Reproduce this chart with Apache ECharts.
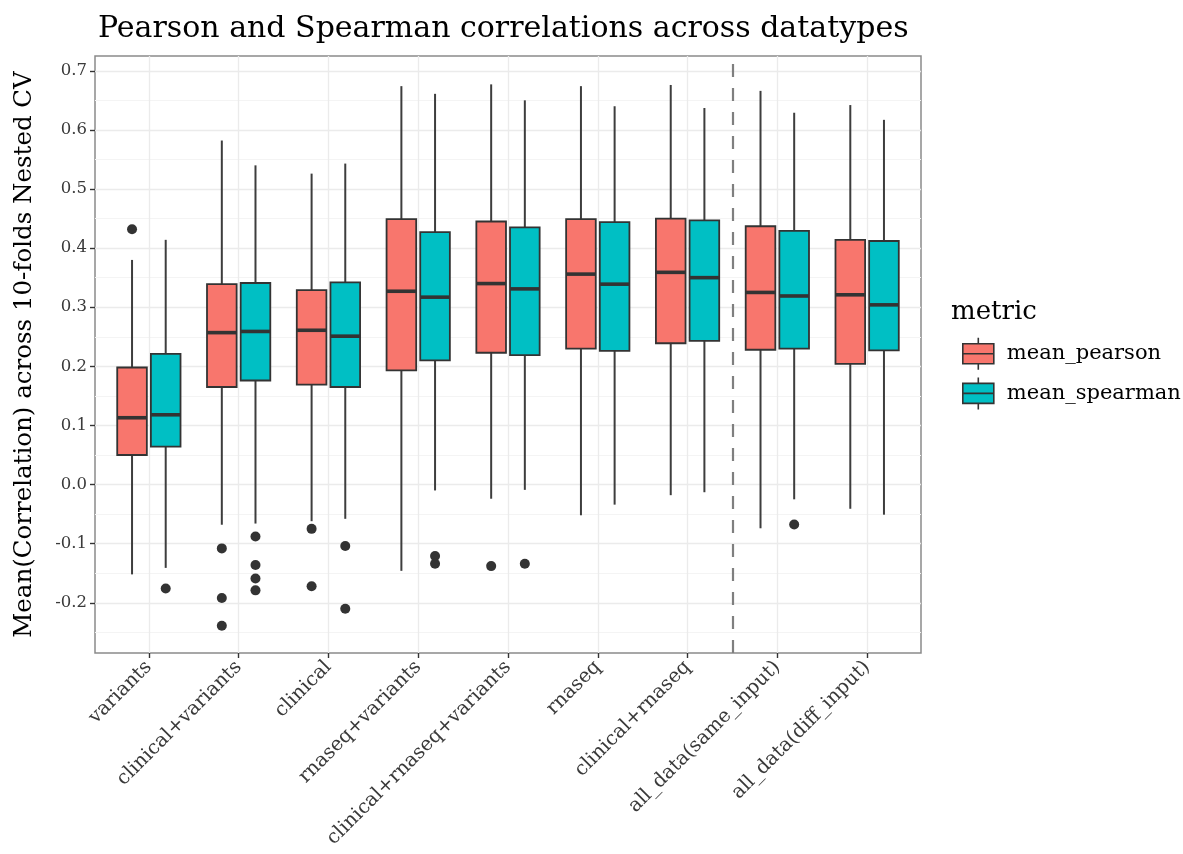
<!DOCTYPE html>
<html>
<head>
<meta charset="utf-8">
<script src="https://cdn.jsdelivr.net/npm/echarts@6/dist/echarts.min.js"></script>
<style>
html,body{margin:0;padding:0;background:#fff;}
#chart{width:1183px;height:854px;}
</style>
</head>
<body>
<div id="chart"></div>
<script>
// ---------- data ----------
const categories = ['variants','clinical+variants','clinical','rnaseq+variants','clinical+rnaseq+variants','rnaseq','clinical+rnaseq','all_data(same_input)','all_data(diff_input)'];
const separatorAfter = 'clinical+rnaseq';
const seriesNames = ['mean_pearson','mean_spearman'];

const yTicks = [-0.2,-0.1,0.0,0.1,0.2,0.3,0.4,0.5,0.6,0.7];
const yMinorTicks = [-0.25,-0.15,-0.05,0.05,0.15,0.25,0.35,0.45,0.55,0.65];

const pearsonLow    = [-0.152,-0.068,-0.062,-0.146,-0.024,-0.052,-0.018,-0.074,-0.041];
const pearsonQ1     = [ 0.050, 0.165, 0.169, 0.193, 0.223, 0.230, 0.239, 0.228, 0.204];
const pearsonMedian = [ 0.113, 0.257, 0.261, 0.327, 0.340, 0.356, 0.359, 0.325, 0.321];
const pearsonQ3     = [ 0.198, 0.339, 0.329, 0.449, 0.445, 0.449, 0.450, 0.437, 0.414];
const pearsonHigh   = [ 0.380, 0.582, 0.526, 0.674, 0.677, 0.674, 0.676, 0.666, 0.642];
const pearsonOutliers = [[0.432],[-0.108,-0.192,-0.239],[-0.075,-0.172],[],[-0.138],[],[],[],[]];

const spearmanLow    = [-0.141,-0.066,-0.058,-0.010,-0.009,-0.034,-0.013,-0.025,-0.051];
const spearmanQ1     = [ 0.064, 0.176, 0.165, 0.210, 0.219, 0.226, 0.243, 0.230, 0.227];
const spearmanMedian = [ 0.118, 0.259, 0.251, 0.317, 0.331, 0.339, 0.350, 0.319, 0.304];
const spearmanQ3     = [ 0.221, 0.341, 0.342, 0.427, 0.435, 0.444, 0.447, 0.429, 0.412];
const spearmanHigh   = [ 0.414, 0.540, 0.543, 0.661, 0.650, 0.640, 0.637, 0.629, 0.617];
const spearmanOutliers = [[-0.176],[-0.088,-0.136,-0.159,-0.179],[-0.104,-0.210],[-0.121,-0.134],[-0.134],[],[],[-0.0675],[]];

// ---------- styling / layout ----------
const FONT = 'DejaVu Serif';
const COLORS = ['#F8766D','#00BFC4'];
const DODGE = 0.1875;      // half of dodge width, in category units
const BOX_W = 0.33;        // box width in category units
const INK = '#333333';

function boxData(lo,q1,md,q3,hi,off){
  return categories.map((c,i)=>[i+off, lo[i], q1[i], md[i], q3[i], hi[i]]);
}
function outlierData(out,off){
  const res=[];
  out.forEach((vals,i)=>vals.forEach(v=>res.push([i+off, v])));
  return res;
}
function renderBox(fill){
  return function(params, api){
    const x = api.value(0);
    const lo = api.coord([x, api.value(1)]);
    const q1 = api.coord([x, api.value(2)]);
    const md = api.coord([x, api.value(3)]);
    const q3 = api.coord([x, api.value(4)]);
    const hi = api.coord([x, api.value(5)]);
    const hw = api.size([BOX_W, 0])[0] / 2;
    const cx = q1[0];
    return {
      type:'group',
      children:[
        {type:'line', shape:{x1:cx,y1:q3[1],x2:cx,y2:hi[1]}, style:{stroke:'#3d3d3d',lineWidth:2}},
        {type:'line', shape:{x1:cx,y1:q1[1],x2:cx,y2:lo[1]}, style:{stroke:'#3d3d3d',lineWidth:2}},
        {type:'rect', shape:{x:cx-hw,y:q3[1],width:hw*2,height:q1[1]-q3[1]}, style:{fill:fill,stroke:INK,lineWidth:1.8}},
        {type:'line', shape:{x1:cx-hw,y1:md[1],x2:cx+hw,y2:md[1]}, style:{stroke:INK,lineWidth:3.6}}
      ]
    };
  };
}

const sepX = categories.indexOf(separatorAfter) + 0.5;
const legendIcon = 'path://M0,6L31,6L31,16L0,16Z M0,16L31,16L31,26L0,26Z M15.5,0L15.5,6 M15.5,26L15.5,32';

const chart = echarts.init(document.getElementById('chart'), null, {renderer:'canvas'});
chart.setOption({
  backgroundColor:'#ffffff',
  animation:false,
  title:[
    {text:'Pearson and Spearman correlations across datatypes', left:93, top:9,
     textStyle:{fontFamily:FONT, fontSize:30, fontWeight:'normal', color:'#000'}},
    {text:'metric', left:946, top:294,
     textStyle:{fontFamily:FONT, fontSize:26, fontWeight:'normal', color:'#000'}}
  ],
  legend:{
    orient:'vertical', left:962, top:337, itemWidth:31, itemHeight:32, itemGap:6,
    selectedMode:false, padding:0,
    textStyle:{fontFamily:FONT, fontSize:21, color:'#000', padding:[0,0,0,8]},
    data: seriesNames.map((n,i)=>({name:n, icon:legendIcon, itemStyle:{color:COLORS[i], borderColor:INK, borderWidth:1.6}}))
  },
  grid:{left:95, top:56, width:826, height:597, show:true, borderColor:'#8a8a8a', borderWidth:1.5, backgroundColor:'#fff'},
  xAxis:{
    type:'value', min:-0.6, max:8.6,
    axisLine:{show:false, onZero:false},
    axisTick:{show:true, length:5, lineStyle:{color:INK, width:1.4}, customValues: categories.map((c,i)=>i)},
    axisLabel:{customValues: categories.map((c,i)=>i), rotate:45, margin:11,
      formatter:(v)=>categories[Math.round(v)], fontFamily:FONT, fontSize:19.5, color:'#3a3a3a'},
    splitLine:{show:true, lineStyle:{color:'#EBEBEB', width:1.3}}
  },
  yAxis:[
    {type:'value', min:-0.285, max:0.725,
     name:'Mean(Correlation) across 10-folds Nested CV', nameLocation:'middle', nameGap:58,
     nameTextStyle:{fontFamily:FONT, fontSize:24.5, color:'#000'},
     axisLine:{show:false, onZero:false},
     axisTick:{show:true, length:5, lineStyle:{color:INK, width:1.4}, customValues: yTicks},
     axisLabel:{customValues: yTicks, margin:8, formatter:(v)=>v.toFixed(1), fontFamily:FONT, fontSize:16.5, color:'#3a3a3a'},
     splitLine:{show:true, lineStyle:{color:'#EBEBEB', width:1.3}}},
    {type:'value', min:-0.285, max:0.725, position:'left',
     axisLine:{show:false, onZero:false}, axisLabel:{show:false},
     axisTick:{show:false, customValues: yMinorTicks},
     splitLine:{show:true, lineStyle:{color:'#F4F4F4', width:1}}}
  ],
  series:[
    {name:seriesNames[0], type:'custom', renderItem:renderBox(COLORS[0]), itemStyle:{color:COLORS[0]},
     encode:{x:0, y:[1,2,3,4,5]}, data:boxData(pearsonLow,pearsonQ1,pearsonMedian,pearsonQ3,pearsonHigh,-DODGE), z:3},
    {name:seriesNames[1], type:'custom', renderItem:renderBox(COLORS[1]), itemStyle:{color:COLORS[1]},
     encode:{x:0, y:[1,2,3,4,5]}, data:boxData(spearmanLow,spearmanQ1,spearmanMedian,spearmanQ3,spearmanHigh,DODGE), z:3},
    {name:'pearson_outliers', type:'scatter', symbol:'circle', symbolSize:10, itemStyle:{color:INK, opacity:1},
     data:outlierData(pearsonOutliers,-DODGE), z:4,
     markLine:{silent:true, symbol:'none', label:{show:false},
       lineStyle:{color:'#7f7f7f', width:2.2, type:[13,11]}, data:[{xAxis:sepX}]}},
    {name:'spearman_outliers', type:'scatter', symbol:'circle', symbolSize:10, itemStyle:{color:INK, opacity:1},
     data:outlierData(spearmanOutliers,DODGE), z:4}
  ]
});
</script>
</body>
</html>
